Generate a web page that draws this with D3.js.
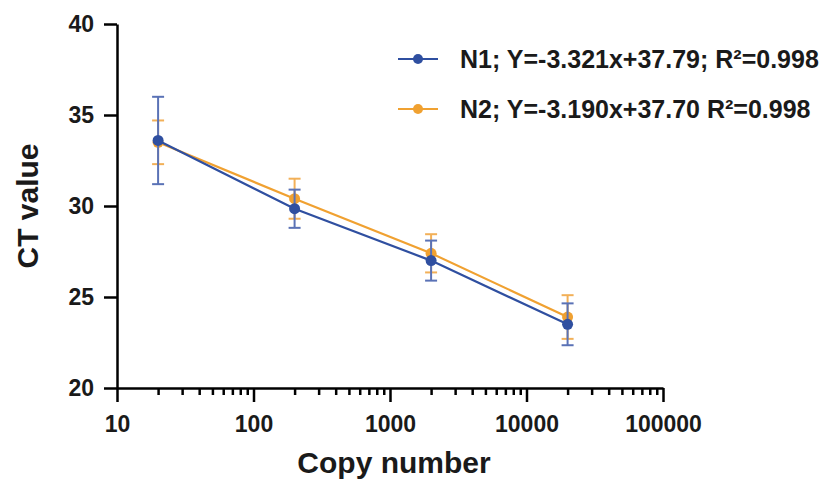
<!DOCTYPE html>
<html>
<head>
<meta charset="utf-8">
<script src="https://cdnjs.cloudflare.com/ajax/libs/d3/7.8.5/d3.min.js"></script>
<style>
  body { margin: 0; background: #fff; }
  text { font-family: "Liberation Sans", Arial, sans-serif; font-weight: bold; }
</style>
</head>
<body>
<div id="chart"></div>
<script>
// data
var copies = [20, 200, 2000, 20000];
var n1Mean = [33.6, 29.85, 27.0, 23.5];
var n1Err  = [2.4, 1.05, 1.1, 1.15];
var n2Mean = [33.5, 30.4, 27.4, 23.9];
var n2Err  = [1.2, 1.1, 1.05, 1.2];
var seriesNames = ["N1; Y=-3.321x+37.79; R\u00b2=0.998", "N2; Y=-3.190x+37.70 R\u00b2=0.998"];
var yTicks = [20, 25, 30, 35, 40];
var xTicks = [10, 100, 1000, 10000, 100000];

var width = 826, height = 483;
var margin = { top: 24, right: 163, bottom: 95, left: 117 };

var svg = d3.select("#chart")
            .append("svg")
            .attr("width", width)
            .attr("height", height);

var x = d3.scaleLog().domain([10, 100000]).range([margin.left, width - margin.right]);
var y = d3.scaleLinear().domain([20, 40]).range([height - margin.bottom, margin.top]);

var series = [
  { name: seriesNames[1], mean: n2Mean, err: n2Err, color: "#f0a131", errColor: "#f2b058" },
  { name: seriesNames[0], mean: n1Mean, err: n1Err, color: "#2f4fa0", errColor: "#5a72b6" }
];

// axes
var xMinor = [];
for (var e = 1; e < 5; e++) {
  for (var k = 2; k <= 9; k++) xMinor.push(k * Math.pow(10, e));
}
var gx = svg.append("g").attr("transform", "translate(0," + y(20) + ")");
gx.append("g")
  .call(d3.axisBottom(x).tickValues(xMinor).tickSize(7).tickFormat(""))
  .call(function(g){ g.select(".domain").remove(); })
  .selectAll("line").attr("stroke", "#000").attr("stroke-width", 2.5);
gx.append("g")
  .call(d3.axisBottom(x).tickValues(xTicks).tickSize(14).tickSizeOuter(0).tickPadding(14).tickFormat(d3.format("d")))
  .call(function(g){
    g.select(".domain").attr("stroke", "#000").attr("stroke-width", 2.5);
    g.selectAll("line").attr("stroke", "#000").attr("stroke-width", 2.5);
    g.selectAll("text").attr("font-size", 23).attr("fill", "#1a1a1a");
  });

svg.append("g")
  .attr("transform", "translate(" + x(10) + ",0)")
  .call(d3.axisLeft(y).tickValues(yTicks).tickSize(13).tickSizeOuter(0).tickPadding(10))
  .call(function(g){
    g.select(".domain").attr("stroke", "#000").attr("stroke-width", 2.5);
    g.selectAll("line").attr("stroke", "#000").attr("stroke-width", 2.5);
    g.selectAll("text").attr("font-size", 23).attr("fill", "#1a1a1a");
  });

// axis titles
svg.append("text")
   .attr("x", 394).attr("y", 473)
   .attr("text-anchor", "middle")
   .attr("font-size", 30)
   .attr("fill", "#1a1a1a")
   .text("Copy number");
svg.append("text")
   .attr("transform", "translate(38," + y(30) + ") rotate(-90)")
   .attr("text-anchor", "middle")
   .attr("font-size", 30)
   .attr("fill", "#1a1a1a")
   .text("CT value");

// series
var line = d3.line().x(function(d){ return x(d.c); }).y(function(d){ return y(d.m); });
series.forEach(function(s) {
  var pts = copies.map(function(c, i){ return { c: c, m: s.mean[i], e: s.err[i] }; });
  var g = svg.append("g");
  g.append("path").datum(pts)
   .attr("d", line).attr("fill", "none")
   .attr("stroke", s.color).attr("stroke-width", 2.2);
  var eb = g.selectAll(".eb").data(pts).enter().append("g");
  eb.append("line")
    .attr("x1", function(d){ return x(d.c); }).attr("x2", function(d){ return x(d.c); })
    .attr("y1", function(d){ return y(d.m + d.e); }).attr("y2", function(d){ return y(d.m - d.e); })
    .attr("stroke", s.errColor).attr("stroke-width", 2);
  [1, -1].forEach(function(sign) {
    eb.append("line")
      .attr("x1", function(d){ return x(d.c) - 6; }).attr("x2", function(d){ return x(d.c) + 6; })
      .attr("y1", function(d){ return y(d.m + sign * d.e); }).attr("y2", function(d){ return y(d.m + sign * d.e); })
      .attr("stroke", s.errColor).attr("stroke-width", 2);
  });
  g.selectAll("circle").data(pts).enter().append("circle")
   .attr("cx", function(d){ return x(d.c); })
   .attr("cy", function(d){ return y(d.m); })
   .attr("r", 5.5)
   .attr("fill", s.color);
});

// legend
var legend = svg.append("g");
[series[1], series[0]].forEach(function(s, i) {
  var ly = 59 + i * 50;
  legend.append("line")
        .attr("x1", 398).attr("x2", 438).attr("y1", ly).attr("y2", ly)
        .attr("stroke", s.color).attr("stroke-width", 2);
  legend.append("circle").attr("cx", 418).attr("cy", ly).attr("r", 5).attr("fill", s.color);
  legend.append("text")
        .attr("x", 460).attr("y", ly + 9)
        .attr("font-size", 25)
        .attr("fill", "#1a1a1a")
        .text(s.name);
});
</script>
</body>
</html>
